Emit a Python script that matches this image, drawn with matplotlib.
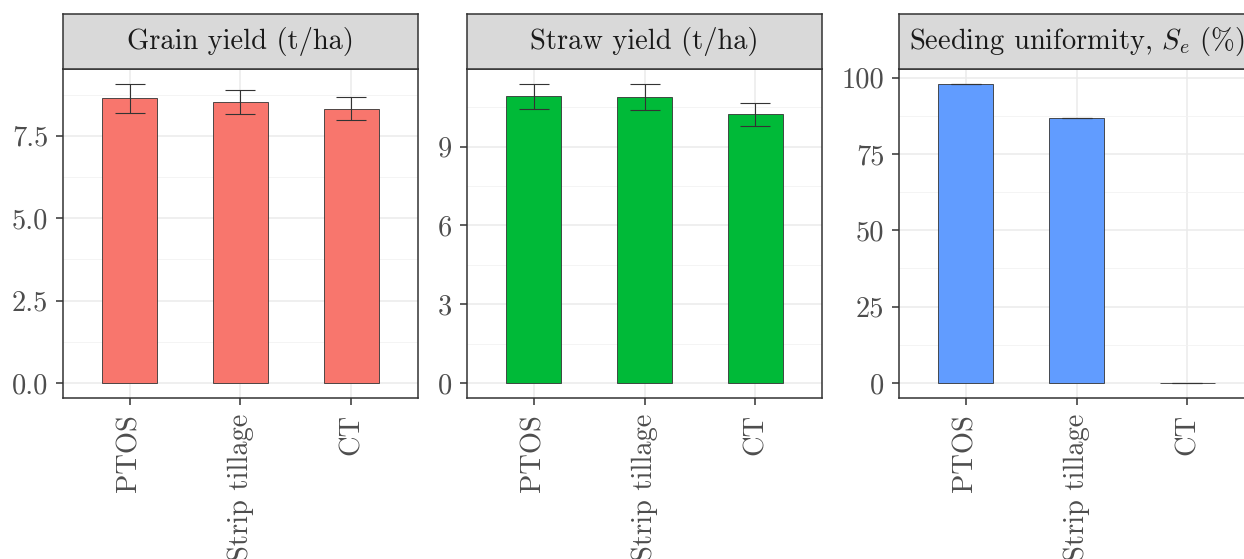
import matplotlib
matplotlib.use("Agg")
import matplotlib.pyplot as plt
from matplotlib.ticker import FixedLocator

plt.rcParams['font.family'] = ['cmr10', 'DejaVu Serif']
plt.rcParams['mathtext.fontset'] = 'cm'
plt.rcParams['axes.unicode_minus'] = False

# data
treatments = ['PTOS', 'Strip tillage', 'CT']
grain_mean = [8.63, 8.52, 8.32]
grain_err = [0.44, 0.36, 0.34]
straw_mean = [10.92, 10.89, 10.23]
straw_err = [0.47, 0.50, 0.44]
seed_mean = [97.9, 86.8, 0.0]
seed_err = [0.0, 0.0, 0.0]

titles = ['Grain yield (t/ha)', 'Straw yield (t/ha)',
          r'Seeding uniformity, $S_e$ (%)']
colors = ['#F8766D', '#00BA38', '#619CFF']
major_ticks = [[0, 2.5, 5.0, 7.5], [0, 3, 6, 9], [0, 25, 50, 75, 100]]
major_labels = [['0.0', '2.5', '5.0', '7.5'], ['0', '3', '6', '9'],
                ['0', '25', '50', '75', '100']]
minor_ticks = [[1.25, 3.75, 6.25, 8.75], [1.5, 4.5, 7.5, 10.5],
               [12.5, 37.5, 62.5, 87.5]]

means = [grain_mean, straw_mean, seed_mean]
errs = [grain_err, straw_err, seed_err]

W, H = 1244, 559
fig = plt.figure(figsize=(W / 100, H / 100), dpi=100)

lefts = [63, 467, 899]
pw = 355
ptop, pbot = 69, 398
stop = 14

dark = '#333333'
for i in range(3):
    ax = fig.add_axes([lefts[i] / W, 1 - pbot / H, pw / W, (pbot - ptop) / H])
    x = range(1, 4)
    ax.bar(x, means[i], width=0.5, color=colors[i], edgecolor=dark,
           linewidth=0.6, zorder=3)
    ax.errorbar(x, means[i], yerr=errs[i], fmt='none', ecolor=dark,
                elinewidth=0.8, capsize=11, capthick=0.8, zorder=4)
    top = max(m + e for m, e in zip(means[i], errs[i]))
    ax.set_xlim(0.4, 3.6)
    ax.set_ylim(-0.05 * top, top * 1.05)
    ax.yaxis.set_major_locator(FixedLocator(major_ticks[i]))
    ax.set_yticklabels(major_labels[i])
    ax.yaxis.set_minor_locator(FixedLocator(minor_ticks[i]))
    ax.set_xticks(list(x))
    ax.set_xticklabels(treatments, rotation=90, ha='center', va='top')
    ax.grid(True, which='major', color='#EBEBEB', linewidth=1.1, zorder=0)
    ax.grid(True, which='minor', color='#F2F2F2', linewidth=0.6, zorder=0)
    ax.set_axisbelow(True)
    ax.tick_params(which='major', length=5, width=1.1, color=dark,
                   labelcolor='#4D4D4D')
    ax.tick_params(axis='y', labelsize=20.5, pad=5.5)
    ax.tick_params(axis='x', labelsize=20.5, pad=6.5)
    ax.tick_params(which='minor', length=0)
    for s in ax.spines.values():
        s.set_color(dark)
        s.set_linewidth(1.1)

    sax = fig.add_axes([lefts[i] / W, 1 - ptop / H, pw / W, (ptop - stop) / H])
    sax.set_facecolor('#D9D9D9')
    sax.set_xticks([])
    sax.set_yticks([])
    for s in sax.spines.values():
        s.set_color(dark)
        s.set_linewidth(1.1)
    sax.text(0.5, 0.5, titles[i], transform=sax.transAxes, ha='center',
             va='center', fontsize=20.5, color='#1A1A1A')

fig.savefig('out.png', dpi=100)
